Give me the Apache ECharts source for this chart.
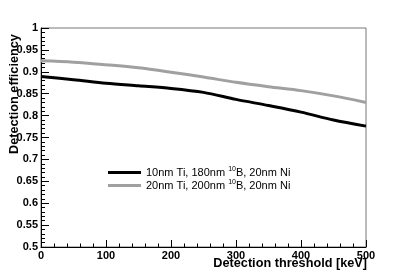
<!DOCTYPE html>
<html><head><meta charset="utf-8">
<script src="https://cdn.jsdelivr.net/npm/echarts@6/dist/echarts.min.js"></script>
<style>html,body{margin:0;padding:0;background:#fff}#c{width:407px;height:275px}</style>
</head><body><div id="c"></div>
<script>
const thresholds = [0, 50, 100, 150, 200, 250, 300, 350, 400, 450, 500];
const effThin = [0.889, 0.882, 0.874, 0.868, 0.862, 0.853, 0.837, 0.823, 0.808, 0.790, 0.776];
const effThick = [0.925, 0.922, 0.916, 0.909, 0.899, 0.888, 0.876, 0.866, 0.857, 0.845, 0.830];
const seriesNames = ['10nm Ti, 180nm 10B, 20nm Ni', '20nm Ti, 200nm 10B, 20nm Ni'];
const legendLabels = ['10nm Ti, 180nm {sup|10}B, 20nm Ni', '20nm Ti, 200nm {sup|10}B, 20nm Ni'];
const xTitle = 'Detection threshold [keV]';
const yTitle = 'Detection efficiency';

const font = 'Liberation Sans, Arial, Helvetica, sans-serif';
const chart = echarts.init(document.getElementById('c'), null, {renderer: 'canvas'});
const pairs = ys => thresholds.map((x, i) => [x, ys[i]]);
chart.setOption({
  animation: false,
  grid: {left: 41, right: 41, top: 28, bottom: 28, show: true, borderColor: '#777', borderWidth: 1, backgroundColor: 'transparent'},
  xAxis: {
    type: 'value', min: 0, max: 500, interval: 100,
    axisLine: {lineStyle: {color: '#000', width: 1}},
    axisTick: {inside: true, length: 7, lineStyle: {color: '#000'}},
    minorTick: {show: true, splitNumber: 5, length: 3.5, lineStyle: {color: '#000'}},
    splitLine: {show: false},
    axisLabel: {fontFamily: font, fontWeight: 'bold', fontSize: 11, color: '#000', margin: 3}
  },
  yAxis: {
    type: 'value', min: 0.5, max: 1, interval: 0.05,
    axisLine: {lineStyle: {color: '#000', width: 1}},
    axisTick: {inside: true, length: 8, lineStyle: {color: '#000'}},
    minorTick: {show: true, splitNumber: 5, length: 4, lineStyle: {color: '#000'}},
    splitLine: {show: false},
    axisLabel: {fontFamily: font, fontWeight: 'bold', fontSize: 11, color: '#000', margin: 3}
  },
  legend: {
    orient: 'vertical', left: 108, top: 166, itemWidth: 33, itemHeight: 3, itemGap: 0, padding: 0,
    icon: 'rect',
    formatter: name => legendLabels[seriesNames.indexOf(name)],
    textStyle: {fontFamily: font, fontSize: 11, color: '#000', lineHeight: 13,
      rich: {sup: {fontSize: 7, fontFamily: font, color: '#000', verticalAlign: 'top', lineHeight: 13, padding: [0, 0, 6, 0]}}}
  },
  graphic: [
    {type: 'text', right: 40, top: 257, style: {text: xTitle, font: 'bold 12.7px ' + font, fill: '#000'}},
    {type: 'text', x: 8, y: 154, rotation: Math.PI / 2, style: {text: yTitle, font: 'bold 12.7px ' + font, fill: '#000'}}
  ],
  series: [
    {name: seriesNames[0], type: 'line', data: pairs(effThin), showSymbol: false, smooth: 0.3,
      lineStyle: {color: '#000', width: 3}, itemStyle: {color: '#000'}},
    {name: seriesNames[1], type: 'line', data: pairs(effThick), showSymbol: false, smooth: 0.3,
      lineStyle: {color: '#a0a0a0', width: 3}, itemStyle: {color: '#a0a0a0'}}
  ]
});
</script></body></html>
